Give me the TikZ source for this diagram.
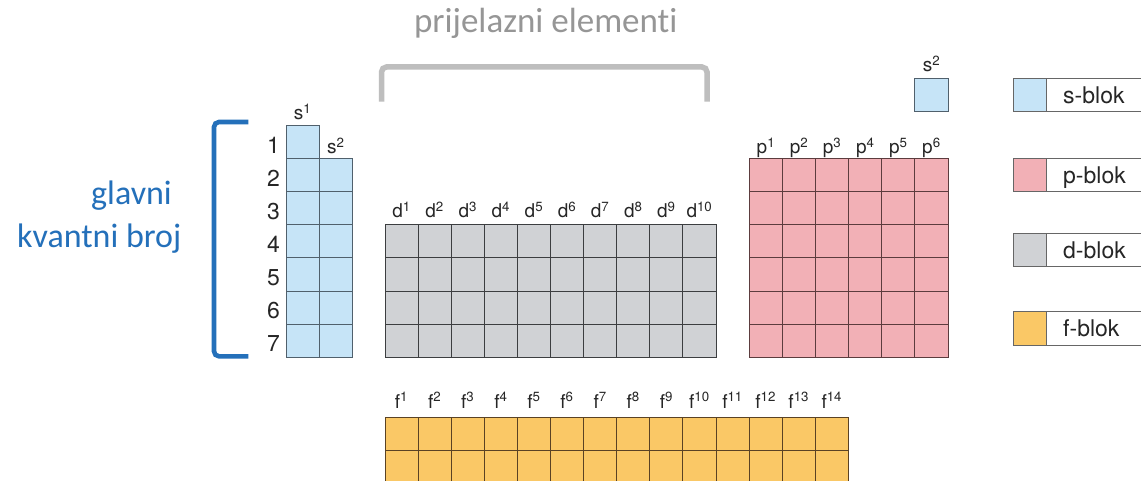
\documentclass[tikz,border=0pt]{standalone}
\usepackage{fontspec}
\setmainfont{TeX Gyre Heros}
\newfontfamily\calibri{Carlito}[Ligatures=NoCommon]

\definecolor{sfill}{RGB}{198,228,247}
\definecolor{pfill}{RGB}{242,176,182}
\definecolor{dfill}{RGB}{208,210,213}
\definecolor{ffill}{RGB}{250,200,102}
\definecolor{sline}{RGB}{80,96,108}
\definecolor{pline}{RGB}{92,60,62}
\definecolor{dline}{RGB}{60,62,64}
\definecolor{fline}{RGB}{90,66,36}
\definecolor{kvblue}{RGB}{36,112,186}
\definecolor{titlegray}{RGB}{150,150,150}
\definecolor{bracketgray}{RGB}{190,190,190}

\begin{document}
\begin{tikzpicture}[x=1pt, y=-1pt,
  cell/.style={line width=1pt},
  sbox/.style={cell, draw=sline},
  pbox/.style={cell, draw=pline},
  dbox/.style={cell, draw=dline},
  fbox/.style={cell, draw=fline},
  lab/.style={anchor=base, inner sep=0pt, font=\fontsize{19}{21}\selectfont, text=black!85},
  num/.style={anchor=base, inner sep=0pt, font=\fontsize{23}{26}\selectfont, text=black!85},
  legtext/.style={anchor=base west, inner sep=0pt, font=\fontsize{23}{26}\selectfont, text=black!85},
  bluetext/.style={anchor=base, inner sep=0pt, font=\calibri\fontsize{34}{37}\selectfont, text=kvblue}]

\useasboundingbox (0,0) rectangle (1141,481);
\clip (0,0) rectangle (1141,481);
\fill[white] (0,0) rectangle (1141,481);

% title with the grey bracket over the d block
\node[anchor=base, inner sep=0pt, font=\calibri\fontsize{35}{38}\selectfont, text=titlegray] (prijelazni) at (545.8,33) {prijelazni elementi};
\draw[bracketgray, line width=5.5pt, rounded corners=5pt] (381.5,101.7) -- (381.5,67) -- (707,67) -- (707,101.7);

% blue bracket for the periods
\draw[kvblue, line width=4.6pt, rounded corners=5pt] (248.3,122) -- (214,122) -- (214,356.3) -- (248.3,356.3);
\node[bluetext] (glavni) at (131.5,205) {glavni};
\node[bluetext] (kvantni) at (99.2,248) {kvantni broj};

% s block: one cell in row 1, two in rows 2-7
\fill[sfill] (286,125.6) rectangle (319.1,357.3);
\fill[sfill] (319.1,158.7) rectangle (352.2,357.3);
\foreach \r in {1,...,7} {
  \draw[sbox] (286,{125.6+(\r-1)*33.1}) rectangle +(33.1,33.1);
  \node[num] (n\r) at (273.5,{153.3+(\r-1)*33.1}) {\r};
}
\foreach \r in {2,...,7}
  \draw[sbox] (319.1,{125.6+(\r-1)*33.1}) rectangle +(33.1,33.1);
\node[lab] (s1) at (302.5,119.3) {s\textsuperscript{1}};
\node[lab] (s2) at (335.7,153.3) {s\textsuperscript{2}};

% helium cell
\fill[sfill] (914.9,78.3) rectangle +(33.1,33.1);
\draw[sbox] (914.9,78.3) rectangle +(33.1,33.1);
\node[lab] (he) at (931.5,71.7) {s\textsuperscript{2}};

% d block, rows 4-7
\fill[dfill] (385,224.9) rectangle (716,357.3);
\foreach \i in {1,...,10} {
  \node[lab] (d\i) at ({385+(\i-0.5)*33.1},217.3) {d\textsuperscript{\i}};
  \foreach \r in {4,...,7}
    \draw[dbox] ({385+(\i-1)*33.1},{125.6+(\r-1)*33.1}) rectangle +(33.1,33.1);
}

% p block, rows 2-7
\fill[pfill] (749.4,158.7) rectangle (948,357.3);
\foreach \i in {1,...,6} {
  \node[lab] (p\i) at ({749.4+(\i-0.5)*33.1},153.3) {p\textsuperscript{\i}};
  \foreach \r in {2,...,7}
    \draw[pbox] ({749.4+(\i-1)*33.1},{125.6+(\r-1)*33.1}) rectangle +(33.1,33.1);
}

% f block (runs off the bottom edge)
\fill[ffill] (385,417.7) rectangle (848.4,483.9);
\foreach \i in {1,...,14} {
  \node[lab] (f\i) at ({385+(\i-0.5)*33.1},408) {f\textsuperscript{\i}};
  \foreach \r in {0,1}
    \draw[fbox] ({385+(\i-1)*33.1},{417.7+\r*33.1}) rectangle +(33.1,33.1);
}

% legend
\foreach \t/\c/\n in {78.3/sfill/s, 158.3/pfill/p, 233.3/dfill/d, 311.7/ffill/f} {
  \draw[draw=black!60, line width=0.9pt, fill=\c] (1013.3,\t) rectangle +(33.4,33.4);
  \draw[draw=black!60, line width=0.9pt, fill=white] (1046.7,\t) rectangle +(120,33.4);
  \node[legtext] (leg\n) at (1063,\t+25) {\n-blok};
}

\end{tikzpicture}
\end{document}
